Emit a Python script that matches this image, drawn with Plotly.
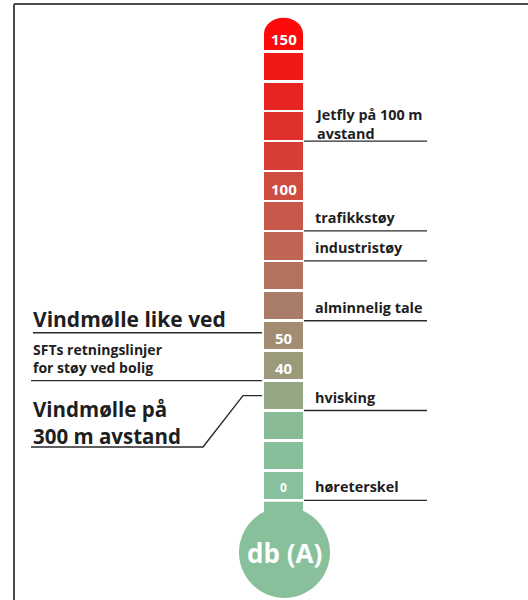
import plotly.graph_objects as go

# ------------------------------------------------------------------ data
scale_db = [0, 10, 20, 30, 40, 50, 60, 70, 80, 90, 100, 110, 120, 130, 140, 150]
scale_tick_db = [150, 100, 50, 40, 0]
scale_tick_text = ["150", "100", "50", "40", "0"]

source_names = ["Jetfly på 100 m<br>avstand", "trafikkstøy", "industristøy",
                "alminnelig tale", "hvisking", "høreterskel"]
source_db = [120, 90, 80, 60, 30, 0]

wind_near_text = "Vindmølle like ved"
wind_near_db = 51
sft_text = "SFTs retningslinjer<br>for støy ved bolig"
sft_db = 40
wind_far_text = "Vindmølle på<br>300 m avstand"
wind_far_db = 30
unit_text = "db (A)"

# ------------------------------------------------------------------ styles
segment_colors = ["#86c09c", "#87bf9b", "#89bb97", "#95a886", "#9b9a7b", "#a18b71",
                  "#a97d67", "#b3715e", "#be6653", "#c8594a", "#cf4c41", "#d73f36",
                  "#df312b", "#e72520", "#f01916", "#fd0a0a"]
bulb_color = "#88c09c"
ink = "#1e1e1e"
FONT = "Open Sans"

# ------------------------------------------------------------------ layout geometry
W, H = 528, 600
PX_PER_DB = 2.994          # vertical scale
Y0_PX = 485.4              # pixel row of 0 dB
STEP = 10


def px(n):
    """pixel length -> dB length"""
    return n / PX_PER_DB


def row(p):
    """pixel row -> dB value (for decorations only)"""
    return (Y0_PX - p) / PX_PER_DB


y_top, y_bot = row(0), row(H)

TUBE_X0, TUBE_X1 = 264, 303
TUBE_XC = (TUBE_X0 + TUBE_X1) / 2
TUBE_W = TUBE_X1 - TUBE_X0
GAP = px(2.6)
top_db = max(scale_db)
cap_top = top_db + STEP / 2 + px(3.5)
cap_start = cap_top - px(16)

bases, heights = [], []
for v in scale_db:
    b = v - STEP / 2 + GAP / 2
    t = cap_start if v == top_db else v + STEP / 2 - GAP / 2
    bases.append(b)
    heights.append(t - b)

fig = go.Figure()
fig.add_trace(go.Bar(x=[TUBE_XC] * len(scale_db), y=heights, base=bases, width=TUBE_W,
                     marker=dict(color=segment_colors, line=dict(width=0)),
                     hoverinfo="skip", showlegend=False))

shapes = []
# rounded cap of the top segment
k = 0.5523
w2 = TUBE_W / 2
yb = cap_start - px(1)
ym = cap_start + k * (cap_top - cap_start)
cap_path = (f"M {TUBE_X0},{yb} L {TUBE_X0},{cap_start} "
            f"C {TUBE_X0},{ym} {TUBE_XC - k * w2},{cap_top} {TUBE_XC},{cap_top} "
            f"C {TUBE_XC + k * w2},{cap_top} {TUBE_X1},{ym} {TUBE_X1},{cap_start} "
            f"L {TUBE_X1},{yb} Z")
shapes.append(dict(type="path", path=cap_path, xref="x", yref="y",
                   fillcolor=segment_colors[-1], line=dict(width=0), layer="above"))

# stem + bulb
BULB_CY = row(552.4)
BULB_R = 45.5
BULB_CX = 284.5
shapes.append(dict(type="rect", xref="x", yref="y", x0=TUBE_X0, x1=TUBE_X1,
                   y0=BULB_CY, y1=min(scale_db) - STEP / 2 - GAP / 2,
                   fillcolor=bulb_color, line=dict(width=0), layer="below"))
shapes.append(dict(type="circle", xref="x", yref="y",
                   x0=BULB_CX - BULB_R, x1=BULB_CX + BULB_R,
                   y0=BULB_CY - px(BULB_R), y1=BULB_CY + px(BULB_R),
                   fillcolor=bulb_color, line=dict(width=0), layer="below"))

# frame
shapes.append(dict(type="line", xref="paper", yref="paper", x0=14 / W, x1=14 / W,
                   y0=0, y1=1 - 4 / H, line=dict(color="#4d4d4d", width=2)))
shapes.append(dict(type="line", xref="paper", yref="paper", x0=14 / W, x1=1,
                   y0=1 - 4 / H, y1=1 - 4 / H, line=dict(color="#4d4d4d", width=2)))

# ------------------------------------------------------------------ leader lines
lx, ly = [], []
for v in source_db:
    lx += [304, 427, None]
    ly += [v - STEP / 2, v - STEP / 2, None]
lx += [33, 262, None]
ly += [wind_near_db, wind_near_db, None]
lx += [31, 262, None]
ly += [sft_db - STEP / 2, sft_db - STEP / 2, None]
low = wind_far_db - px(51.4)
lx += [262, 243, 203, 31]
ly += [wind_far_db, wind_far_db, low, low]
fig.add_trace(go.Scatter(x=lx, y=ly, mode="lines", line=dict(color="#2a2a2a", width=1.4),
                         hoverinfo="skip", showlegend=False))

# ------------------------------------------------------------------ annotations
ann = []
for t, v in zip(scale_tick_text, scale_tick_db):
    ann.append(dict(x=TUBE_XC, y=v, text=t, showarrow=False, xanchor="center",
                    yanchor="middle", yshift=-2.5,
                    font=dict(family=FONT, size=12 if v == 0 else 15, color="white",
                              weight="bold")))
for t, v in zip(source_names, source_db):
    ann.append(dict(x=313, y=v, text=t, showarrow=False, xanchor="left", align="left",
                    yanchor="middle", yshift=2 if "<br>" in t else -1.5,
                    font=dict(family=FONT, size=14.4, color=ink, weight="bold")))
ann.append(dict(x=31, y=wind_near_db, text=wind_near_text, showarrow=False,
                xanchor="left", yanchor="middle", yshift=14,
                font=dict(family=FONT, size=21, color=ink, weight="bold")))
ann.append(dict(x=31, y=sft_db, text=sft_text, showarrow=False, xanchor="left",
                align="left", yanchor="middle", yshift=7,
                font=dict(family=FONT, size=14, color=ink, weight="bold")))
ann.append(dict(x=31, y=wind_far_db, text=wind_far_text, showarrow=False,
                xanchor="left", align="left", yanchor="middle", yshift=-26.5,
                font=dict(family=FONT, size=20.5, color=ink, weight="bold")))
ann.append(dict(x=BULB_CX, y=BULB_CY, text=unit_text, showarrow=False,
                xanchor="center", yanchor="middle", yshift=-1,
                font=dict(family=FONT, size=26, color="white", weight="bold")))

fig.update_layout(
    width=W, height=H, margin=dict(l=0, r=0, t=0, b=0),
    paper_bgcolor="white", plot_bgcolor="white",
    xaxis=dict(range=[0, W], visible=False, fixedrange=True),
    yaxis=dict(range=[y_bot, y_top], visible=False, fixedrange=True),
    shapes=shapes, annotations=ann, showlegend=False, bargap=0,
)

fig.write_html("out.html", config={"displayModeBar": False},
               post_script="document.body.style.margin='0px';")
